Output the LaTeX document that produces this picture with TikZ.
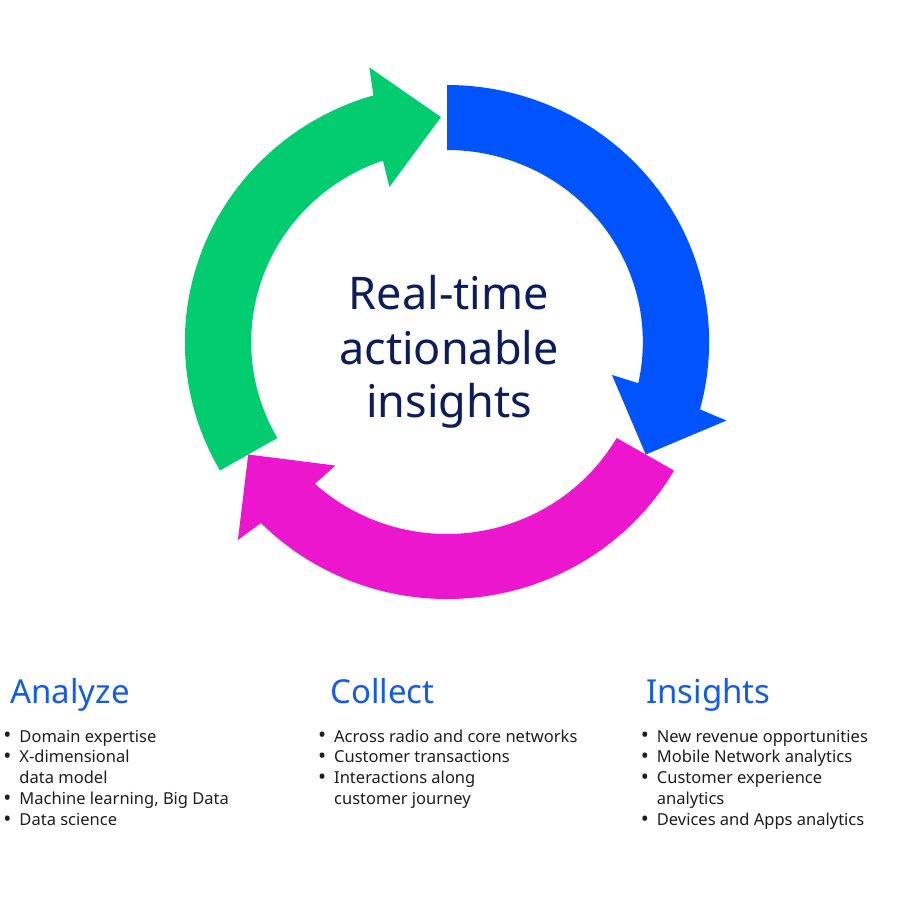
\documentclass[tikz,border=0pt]{standalone}
\usepackage{fontspec}
\setmainfont{Noto Sans}
\definecolor{arrowblue}{RGB}{0,84,255}
\definecolor{arrowgreen}{RGB}{2,204,112}
\definecolor{arrowpink}{RGB}{236,22,206}
\definecolor{headblue}{RGB}{20,92,230}
\definecolor{navy}{RGB}{12,30,90}
\definecolor{bodytext}{RGB}{30,30,30}
\newcommand\bt{\makebox[12pt]{\raisebox{-0.5pt}{\scalebox{1.3}{•}}}}
\tikzset{
  centretext/.style={font=\fontsize{45}{54}\selectfont, text=navy, inner sep=0pt, anchor=base},
  headtext/.style={font=\fontsize{33}{40}\selectfont, text=headblue, inner sep=0pt, anchor=base west},
  listtext/.style={font=\fontsize{16.5}{20.9}\selectfont, text=bodytext, inner sep=0pt, anchor=base west}
}
\begin{document}
\begin{tikzpicture}[x=1pt,y=1pt]
\useasboundingbox (0,-907) rectangle (907,0);
\fill[white] (0,-907) rectangle (907,0);
\begin{scope}[shift={(447,-342)}, xscale=1.02]
  % blue arrow: 90 -> -30
  \fill[arrowblue] (90:257) arc[start angle=90,end angle=-15.2,radius=257]
    -- (-16:285) -- (-30:225) -- (-11.5:165) -- (-12.4:192)
    arc[start angle=-12.4,end angle=90,radius=192] -- cycle;
  % pink arrow: -30 -> -150
  \fill[arrowpink] (-30:257) arc[start angle=-30,end angle=-135.2,radius=257]
    -- (-136:285) -- (-150:225) -- (-131.5:165) -- (-132.4:192)
    arc[start angle=-132.4,end angle=-30,radius=192] -- cycle;
  % green arrow: 210 -> 91.5
  \fill[arrowgreen] (210:257) arc[start angle=210,end angle=106.3,radius=257]
    -- (105.5:285) -- (91.5:225) -- (110:165) -- (109.1:192)
    arc[start angle=109.1,end angle=210,radius=192] -- cycle;
\end{scope}
\node[centretext] (c1) at (449,-309) {Real-time};
\node[centretext] (c2) at (449,-364) {actionable};
\node[centretext] (c3) at (449,-417) {insights};

\node[headtext] (hanalyze) at (10,-703) {Analyze};
\node[headtext] (hcollect) at (330,-703) {Collect};
\node[headtext] (hinsights) at (646,-703) {Insights};

\node[listtext] (lanalyze) at (1.3,-742) {\begin{tabular}[t]{@{}l@{\hspace{6pt}}l@{}}
\bt & Domain expertise\\
\bt & X-dimensional\\
    & data model\\
\bt & Machine learning, Big Data\\
\bt & Data science
\end{tabular}};
\node[listtext] (lcollect) at (316,-742) {\begin{tabular}[t]{@{}l@{\hspace{6pt}}l@{}}
\bt & Across radio and core networks\\
\bt & Customer transactions\\
\bt & Interactions along\\
    & customer journey
\end{tabular}};
\node[listtext] (linsights) at (638.7,-742) {\begin{tabular}[t]{@{}l@{\hspace{6pt}}l@{}}
\bt & New revenue opportunities\\
\bt & Mobile Network analytics\\
\bt & Customer experience\\
    & analytics\\
\bt & Devices and Apps analytics
\end{tabular}};
\end{tikzpicture}
\end{document}
